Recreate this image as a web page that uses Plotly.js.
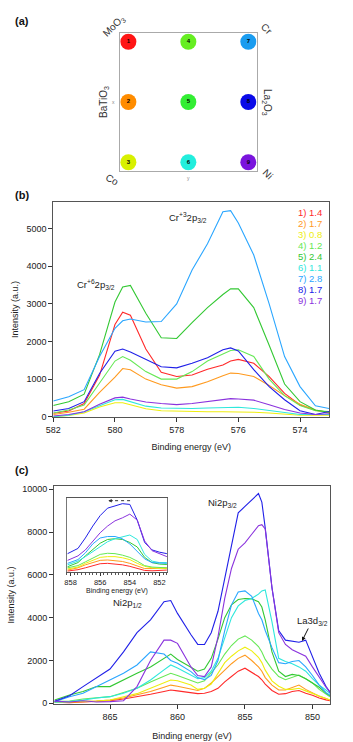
<!DOCTYPE html>
<html>
<head>
<meta charset="utf-8">
<script src="https://cdn.plot.ly/plotly-3.0.1.min.js"></script>
<style>html,body{margin:0;padding:0;background:#fff;}#chart{width:353px;height:742px;}</style>
</head>
<body>
<div id="chart"></div>
<script>
// ---------- DATA ----------
// Panel (a): sample grid
const sampleIds = [1,2,3,4,5,6,7,8,9];
const sampleCol = [0,0,0,1,1,1,2,2,2];
const sampleRow = [2,1,0,2,1,0,2,1,0];
const cornerLabels = ['MoO<sub>3</sub>','Cr','Co','Ni'];
const sideLabels = ['BaTiO<sub>3</sub>','La<sub>2</sub>O<sub>3</sub>'];

// Panel (b): Cr 2p3/2 spectra
const legendVals = ['1.4','1.7','0.8','1.2','2.4','1.1','2.8','1.7','1.7'];
const eB = [582,581.5,581,580.5,580,579.75,579.5,579,578.5,578,577.5,577,576.5,576.25,576,575.5,575,574.5,574,573.5,573];
const b1 = [90,150,350,1100,2450,2780,2700,1800,1180,1070,1110,1260,1375,1480,1525,1420,1065,620,310,170,100];
const b2 = [60,120,200,650,1050,1280,1250,1000,850,760,800,930,1090,1160,1150,1070,830,560,330,170,100];
const b3 = [0,30,100,260,370,370,320,210,160,150,130,130,130,130,130,120,100,60,40,40,40];
const b4 = [100,180,310,900,1480,1600,1500,1200,1000,1000,1200,1480,1680,1760,1780,1600,1000,560,300,160,130];
const b5 = [300,400,600,1650,3050,3450,3490,2750,2100,2080,2500,2900,3250,3400,3400,2900,1900,870,400,180,110];
const b6 = [0,40,130,290,450,460,400,280,230,220,220,230,250,250,250,220,170,100,60,60,60];
const b7 = [420,530,720,1600,2350,2550,2600,2520,2530,3000,3900,4600,5450,5480,5150,4300,3000,1600,800,290,210];
const b8 = [150,220,400,1150,1740,1800,1720,1520,1330,1300,1420,1570,1780,1830,1750,1250,800,450,160,60,150];
const b9 = [20,60,130,330,500,520,470,390,350,320,350,400,460,480,470,440,320,190,100,60,80];

// Panel (c): Ni 2p spectra
const eC = [869.1,868,867,866,865,864,863,862,861,860.5,860,859,858.5,858,857.5,857,856.5,856,855.5,855,854.5,854,853.75,853.5,853,852.5,852,851.5,851,850.5,850,849.5,849,848.7];
const c1 = [50,30,60,80,120,200,300,420,550,620,580,480,450,470,550,700,1000,1250,1500,1640,1450,1250,1100,900,600,420,450,550,600,470,380,250,160,120];
const c2 = [50,50,80,100,150,250,400,550,750,850,800,650,600,700,950,1250,1550,1850,2100,2250,2000,1700,1500,1200,850,620,620,750,850,650,500,330,220,150];
const c3 = [50,60,80,100,150,300,450,700,950,1090,1050,850,650,700,900,1400,1900,2200,2450,2620,2450,2150,1900,1550,1050,800,650,650,700,580,450,320,220,150];
const c4 = [80,100,200,250,310,500,700,1000,1250,1400,1300,1050,950,1050,1400,1800,2300,2700,3000,3150,2950,2650,2400,2050,1600,1250,1100,1200,1320,1150,950,650,420,300];
const c5 = [150,390,550,780,780,1100,1400,1700,2100,2300,2050,1700,1500,1600,2100,3000,4000,4600,4850,4900,4880,4750,4500,3900,2400,1500,1250,1350,1300,1150,950,750,480,350];
const c6 = [50,80,150,250,310,470,700,1090,1560,1790,1650,1300,1150,1200,1500,2100,3100,4000,4550,4800,4900,5100,5250,5300,3800,2100,1950,1850,1700,1500,1150,850,620,450];
const c7 = [78,310,470,780,1090,1400,1790,2400,2300,2000,1870,1480,1200,1100,1300,2000,3400,4600,5200,5250,5000,4200,3900,3400,2600,1900,1850,1950,2000,1700,1300,850,500,380];
const c8 = [100,350,780,1200,1600,2400,3300,3900,4750,4800,4200,3200,2750,2750,3300,4300,5800,7300,8900,9200,9500,9800,9400,8200,5400,3400,2950,2900,2850,2950,2200,1400,800,500];
const c9 = [100,60,120,60,80,120,780,2000,2950,2950,2800,1700,1300,1250,1700,3100,4900,6300,7200,7500,7900,8300,8350,8150,5400,3300,2750,2500,2350,2200,1700,1200,750,550];

// Inset: Ni 2p3/2 region (relative intensity)
const eI = [858.2,857.5,857,856.5,856,855.5,855,854.5,854,853.5,853,852.5,852,851.5];
const i1 = [1.7,3.5,6,9,11.5,12,11.5,10,8,5,2.5,2,3,3];
const i2 = [3,6,10,13,16,16.5,16,14.5,12,8,5,5,6,6];
const i3 = [4.5,7,12,16,20,21,21,19.5,17,12,8,6,5.5,5];
const i4 = [6,9,14,19,24,25.5,25,23,20,15,9,7,6,6];
const i5 = [7.5,13,22,31,39,44,45,44,40,34,20,13,11,10.5];
const i6 = [10,15,21,28,35,41,45,47,50,44,24,15,13,13];
const i7 = [12,17,26,38,46,48,48,45,38,28,18,13,12,12];
const i8 = [25,32,46,62,76,86,89,92,91,70,40,30,27,25];
const i9 = [16,22,30,42,53,62,69,73,78,70,42,29,25,21];

// ---------- STYLE ----------
const W = 353, H = 742;
const FONT = 'Arial, "Liberation Sans", sans-serif';
const colors = ['#ff2a2a','#ff9a1f','#eeee10','#66e855','#33c833','#2ee8dc','#2aa6ff','#2020e8','#8a33dd'];
const circleColors = ['#ff1515','#ff8c00','#d8f000','#66ee22','#33ee33','#22eedd','#1a9cf0','#0a0ae8','#7a14dd'];
const X = p => p / W, Y = p => 1 - p / H;

const bSeries = [b1,b2,b3,b4,b5,b6,b7,b8,b9];
const cSeries = [c1,c2,c3,c4,c5,c6,c7,c8,c9];
const iSeries = [i1,i2,i3,i4,i5,i6,i7,i8,i9];

const traces = [];
bSeries.forEach((s, k) => traces.push({x: eB, y: s, xaxis: 'x', yaxis: 'y', mode: 'lines', line: {color: colors[k], width: 1.1}, showlegend: false, hoverinfo: 'skip'}));
cSeries.forEach((s, k) => traces.push({x: eC, y: s, xaxis: 'x2', yaxis: 'y2', mode: 'lines', line: {color: colors[k], width: 1.1}, showlegend: false, hoverinfo: 'skip'}));
iSeries.forEach((s, k) => traces.push({x: eI, y: s, xaxis: 'x3', yaxis: 'y3', mode: 'lines', line: {color: colors[k], width: 1}, showlegend: false, hoverinfo: 'skip'}));
traces.push({x: sampleCol, y: sampleRow, xaxis: 'x4', yaxis: 'y4', mode: 'markers+text',
  text: sampleIds.map(v => '<b>' + v + '</b>'), textposition: 'middle center',
  textfont: {size: 6, color: '#000', family: FONT},
  marker: {size: 16, color: circleColors, line: {width: 0}}, showlegend: false, hoverinfo: 'skip'});

const axBase = {showgrid: false, zeroline: false, showline: true, mirror: true, linecolor: '#555', linewidth: 1,
  ticks: 'outside', ticklen: 4, tickcolor: '#333', tickfont: {size: 9, color: '#222', family: FONT}};

const ann = [];
const txt = (x, y, text, o) => ann.push(Object.assign({xref: 'paper', yref: 'paper', x: X(x), y: Y(y), text: text, showarrow: false,
  xanchor: 'center', yanchor: 'middle', font: {size: 9, color: '#222', family: FONT}}, o || {}));

// panel labels
txt(13, 21, '<b>(a)</b>', {xanchor: 'left', font: {size: 11, color: '#111', family: FONT}});
txt(13, 195, '<b>(b)</b>', {xanchor: 'left', font: {size: 11, color: '#111', family: FONT}});
txt(13, 470, '<b>(c)</b>', {xanchor: 'left', font: {size: 11, color: '#111', family: FONT}});

// panel (a) labels
const lf = {size: 10, color: '#333', family: FONT};
txt(114, 26, cornerLabels[0], {textangle: -45, font: lf});
txt(266, 29, cornerLabels[1], {textangle: 45, font: lf});
txt(112, 179, cornerLabels[2], {textangle: 30, font: lf});
txt(267, 174, cornerLabels[3], {textangle: 45, font: lf});
txt(104, 102, sideLabels[0], {textangle: -90, font: lf});
txt(267, 102, sideLabels[1], {textangle: 90, font: lf});
txt(113, 102, 'x', {font: {size: 5, color: '#888', family: FONT}});
txt(188, 178, 'y', {font: {size: 5, color: '#888', family: FONT}});

// panel (b) labels and legend
txt(188, 217, 'Cr<sup>+3</sup>2p<sub>3/2</sub>', {font: {size: 9.5, color: '#222', family: FONT}});
txt(96, 284, 'Cr<sup>+6</sup>2p<sub>3/2</sub>', {font: {size: 9.5, color: '#222', family: FONT}});
legendVals.forEach((v, k) => txt(324, 212 + k * 11.05, (k + 1) + ') ' + v, {xanchor: 'right', font: {size: 9.5, color: colors[k], family: FONT}}));

// panel (c) labels
txt(222, 503, 'Ni2p<sub>3/2</sub>', {font: {size: 9.5, color: '#222', family: FONT}});
txt(127, 603, 'Ni2p<sub>1/2</sub>', {font: {size: 9.5, color: '#222', family: FONT}});
ann.push({xref: 'paper', yref: 'paper', x: X(302), y: Y(641), ax: 10, ay: -20, text: 'La3d<sub>3/2</sub>', showarrow: true,
  arrowhead: 2, arrowsize: 0.8, arrowwidth: 1, arrowcolor: '#111', font: {size: 9.5, color: '#222', family: FONT}});
// inset arrow
ann.push({xref: 'x3', yref: 'y3', x: 855.45, y: 96, ax: 6, ay: 0, text: '', showarrow: true, arrowhead: 2, arrowsize: 0.7, arrowwidth: 1, arrowcolor: '#333'});

const layout = {
  width: W, height: H, margin: {l: 0, r: 0, t: 0, b: 0}, paper_bgcolor: '#fff', plot_bgcolor: 'rgba(0,0,0,0)',
  font: {family: FONT, color: '#222'}, showlegend: false,
  xaxis: Object.assign({}, axBase, {domain: [X(53.3), X(329)], anchor: 'y', range: [582, 573.06], tickvals: [582,580,578,576,574],
    title: {text: 'Binding energy (eV)', font: {size: 9, color: '#222', family: FONT}, standoff: 9}}),
  yaxis: Object.assign({}, axBase, {domain: [Y(417), Y(202)], anchor: 'x', range: [-8, 5710], tickvals: [0,1000,2000,3000,4000,5000],
    title: {text: 'Intensity (a.u.)', font: {size: 9, color: '#222', family: FONT}, standoff: 6}}),
  xaxis2: Object.assign({}, axBase, {domain: [X(54), X(330)], anchor: 'y2', range: [869.15, 848.7], tickvals: [865,860,855,850],
    title: {text: 'Binding energy (eV)', font: {size: 9, color: '#222', family: FONT}, standoff: 11}}),
  yaxis2: Object.assign({}, axBase, {domain: [Y(704), Y(486)], anchor: 'x2', range: [-33, 10154], tickvals: [0,2000,4000,6000,8000,10000],
    tickformat: 'd', title: {text: 'Intensity (a.u.)', font: {size: 9, color: '#222', family: FONT}, standoff: 6}}),
  xaxis3: Object.assign({}, axBase, {domain: [X(66.7), X(167.3)], anchor: 'y3', range: [858.26, 851.47], tickvals: [858,856,854,852],
    ticklen: 3, tickfont: {size: 7.5, color: '#222', family: FONT}, minor: {dtick: 0.25, ticks: 'outside', ticklen: 1.5, tickcolor: '#555'},
    title: {text: 'Binding energy (eV)', font: {size: 7, color: '#222', family: FONT}, standoff: 1}}),
  yaxis3: Object.assign({}, axBase, {domain: [Y(572.3), Y(497.7)], anchor: 'x3', range: [0, 100], ticks: '', showticklabels: false, linecolor: '#777'}),
  xaxis4: {domain: [X(120), X(256.7)], anchor: 'y4', range: [-0.14, 2.14], showline: true, mirror: true, linecolor: '#aaa', linewidth: 1.5,
    showgrid: false, zeroline: false, showticklabels: false, ticks: ''},
  yaxis4: {domain: [Y(170.7), Y(33.3)], anchor: 'x4', range: [-0.14, 2.14], showline: true, mirror: true, linecolor: '#aaa', linewidth: 1.5,
    showgrid: false, zeroline: false, showticklabels: false, ticks: ''},
  shapes: [
    {type: 'rect', xref: 'x3', yref: 'y3', x0: 858.26, x1: 851.47, y0: 0, y1: 100, fillcolor: '#fff', line: {width: 0}, layer: 'below'},
    {type: 'line', xref: 'x3', yref: 'y3', x0: 855.4, x1: 853.85, y0: 96, y1: 96, line: {color: '#333', width: 1, dash: 'dot'}}
  ],
  annotations: ann
};

Plotly.newPlot('chart', traces, layout, {staticPlot: true, displayModeBar: false});
</script>
</body>
</html>
